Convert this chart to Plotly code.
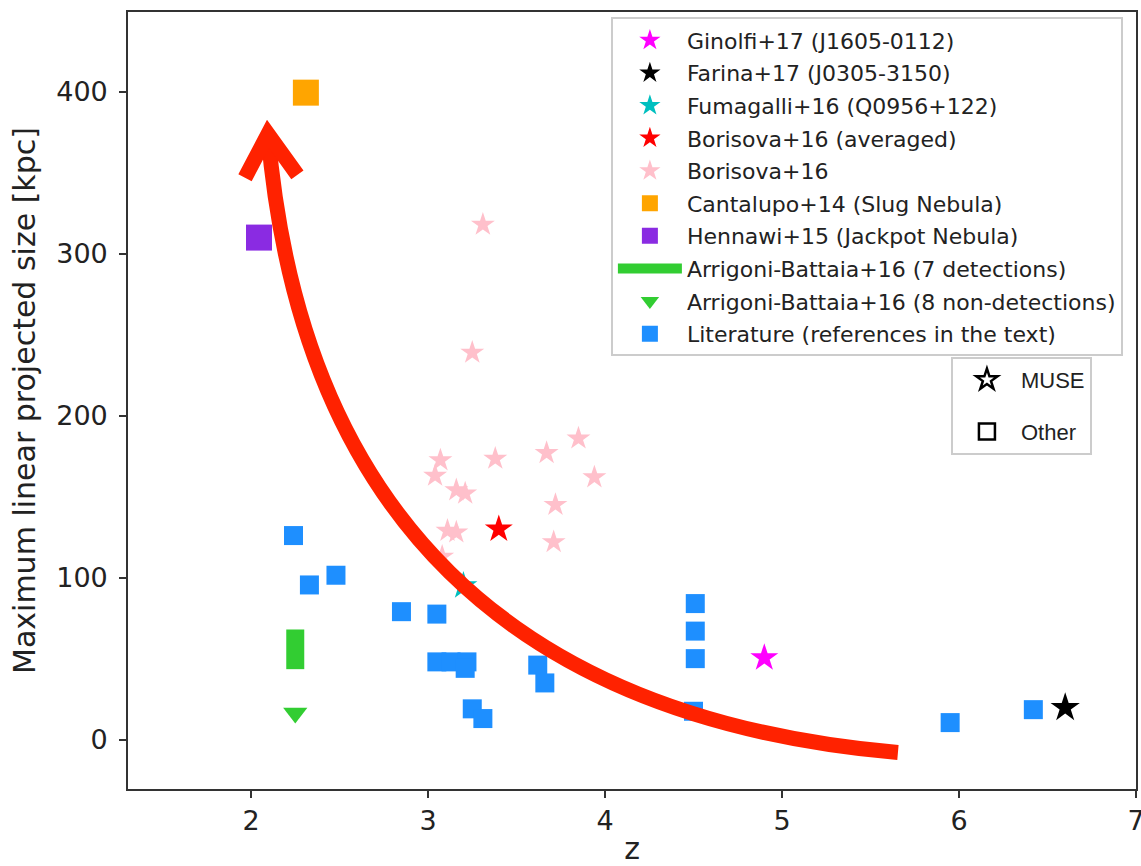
import plotly.graph_objects as go

# ---- data -------------------------------------------------------------
lit_z = [2.24, 2.33, 2.48, 2.85, 3.05, 3.05, 3.13, 3.22, 3.21, 3.25, 3.31,
         3.62, 3.66, 4.51, 4.51, 4.51, 4.50, 5.95, 6.42]
lit_size = [126, 95.5, 101.5, 79, 77.5, 48, 48, 48, 44, 19, 13,
            46, 35, 84, 67, 50, 17.5, 10.5, 18.5]

bor_z = [3.31, 3.25, 3.07, 3.04, 3.16, 3.21, 3.11, 3.16, 3.08,
         3.38, 3.67, 3.85, 3.94, 3.72, 3.71]
bor_size = [318, 239, 172.5, 163, 154, 152, 129, 128, 113,
            173.5, 177, 186, 162, 145, 122]

bor_avg_z, bor_avg_size = [3.40], [130]
fum_z, fum_size = [3.20], [95]
gin_z, gin_size = [4.90], [50.5]
far_z, far_size = [6.60], [19.7]
slug_z, slug_size = [2.31], [399.5]
jackpot_z, jackpot_size = [2.045], [310]

ab_det_z, ab_det_range = 2.25, [43.5, 68]
ab_nondet_z, ab_nondet_size = [2.25], [16.5]

x_ticks = [2, 3, 4, 5, 6, 7]
y_ticks = [0, 100, 200, 300, 400]

# curved arrow (quadratic Bezier) in data units: start, control, tip
arrow_start = (5.655, -8.0)
arrow_ctrl = (2.37, 23.4)
arrow_tip = (2.096, 374.0)
arrow_wings = [(1.966, 346.9), (2.262, 348.7)]

FONT = "DejaVu Sans"

fig = go.Figure()


def add_points(name, x, y, symbol, color, size, rank):
    fig.add_trace(go.Scatter(
        x=x, y=y, mode="markers", name=name,
        legendgroup=name, legendrank=rank,
        marker=dict(symbol=symbol, color=color, size=size,
                    line=dict(width=0)),
    ))


add_points("Borisova+16", bor_z, bor_size, "star", "pink", 18, 5)
add_points("Literature (references in the text)", lit_z, lit_size,
           "square", "#1e8fff", 19, 10)
add_points("Cantalupo+14 (Slug Nebula)", slug_z, slug_size,
           "square", "#ffa500", 26, 6)
add_points("Hennawi+15 (Jackpot Nebula)", jackpot_z, jackpot_size,
           "square", "#8a2be2", 26, 7)
fig.add_trace(go.Scatter(
    x=[ab_det_z, ab_det_z], y=ab_det_range, mode="lines",
    name="Arrigoni-Battaia+16 (7 detections)",
    legendgroup="abdet", legendrank=8,
    line=dict(color="#32cd32", width=18),
))
add_points("Arrigoni-Battaia+16 (8 non-detections)", ab_nondet_z,
           ab_nondet_size, "triangle-down", "#32cd32", 21, 9)
add_points("Ginolfi+17 (J1605-0112)", gin_z, gin_size, "star", "#ff00ff", 21, 1)
add_points("Farina+17 (J0305-3150)", far_z, far_size, "star", "black", 22, 2)
add_points("Fumagalli+16 (Q0956+122)", fum_z, fum_size, "star", "#00bfbf", 21, 3)
add_points("Borisova+16 (averaged)", bor_avg_z, bor_avg_size,
           "star", "#ff0000", 21, 4)

# instrument key
for label, sym in [("MUSE", "star-open"), ("Other", "square-open")]:
    fig.add_trace(go.Scatter(
        x=[None], y=[None], mode="markers", name=label,
        legend="legend2", legendgroup=label,
        marker=dict(symbol=sym, color="black", size=16,
                    line=dict(width=2.5, color="black")),
    ))

# red arrow across the panel
(x0, y0), (cx, cy), (x1, y1) = arrow_start, arrow_ctrl, arrow_tip
fig.add_shape(type="path", xref="x", yref="y", layer="above",
              path=f"M {x0},{y0} Q {cx},{cy} {x1},{y1}",
              line=dict(color="#ff2200", width=15))
(wx0, wy0), (wx1, wy1) = arrow_wings
fig.add_shape(type="path", xref="x", yref="y", layer="above",
              path=f"M {wx0},{wy0} L {x1},{y1} L {wx1},{wy1}",
              line=dict(color="#ff2200", width=15))

axis_common = dict(
    showline=True, mirror=True, linecolor="#333", linewidth=1.6,
    ticks="outside", ticklen=7, tickwidth=1.5, tickcolor="#333",
    showgrid=False, zeroline=False, ticklabeloverflow="allow",
    automargin=False,
    tickfont=dict(family=FONT, size=27, color="#222"),
)

fig.update_layout(
    width=1141, height=866,
    margin=dict(l=128, r=5, t=12, b=77),
    paper_bgcolor="white", plot_bgcolor="white",
    xaxis=dict(range=[1.305, 7.0], tickvals=x_ticks,
               title=dict(text="z", font=dict(family=FONT, size=30, color="#222"),
                          standoff=13),
               **axis_common),
    yaxis=dict(range=[-30.5, 449.3], tickvals=y_ticks,
               title=dict(text="Maximum linear projected size [kpc]",
                          font=dict(family=FONT, size=30, color="#222"),
                          standoff=12),
               ticklabelstandoff=6,
               **axis_common),
    legend=dict(
        x=0.987, y=0.993, xanchor="right", yanchor="top",
        bgcolor="rgba(255,255,255,0.8)", bordercolor="#cccccc", borderwidth=2,
        font=dict(family=FONT, size=22, color="#222"),
        tracegroupgap=1, itemwidth=64,
    ),
    legend2=dict(
        x=0.8164, y=0.556, xanchor="left", yanchor="top",
        bgcolor="rgba(255,255,255,0.8)", bordercolor="#cccccc", borderwidth=2,
        font=dict(family="Liberation Sans", size=22, color="#222"),
        tracegroupgap=20, itemwidth=58,
    ),
    showlegend=True,
)

fig.write_html("out.html")
